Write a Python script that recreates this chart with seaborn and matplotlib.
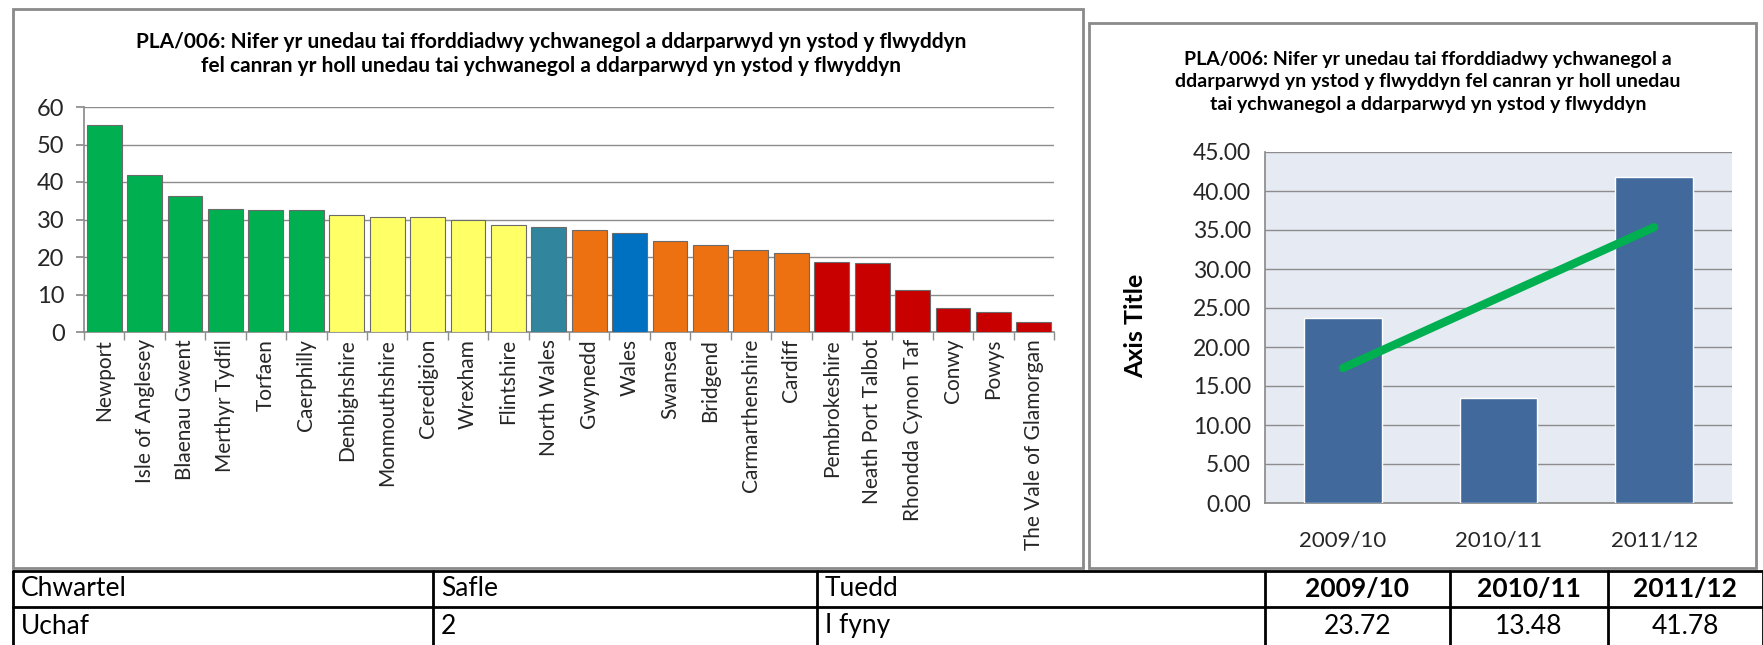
import numpy as np
import matplotlib
matplotlib.use("Agg")
import matplotlib.pyplot as plt
from matplotlib.patches import Rectangle
from matplotlib.lines import Line2D
import seaborn as sns

# Data
authorities = ["Newport", "Isle of Anglesey", "Blaenau Gwent", "Merthyr Tydfil", "Torfaen",
               "Caerphilly", "Denbighshire", "Monmouthshire", "Ceredigion", "Wrexham",
               "Flintshire", "North Wales", "Gwynedd", "Wales", "Swansea", "Bridgend",
               "Carmarthenshire", "Cardiff", "Pembrokeshire", "Neath Port Talbot",
               "Rhondda Cynon Taf", "Conwy", "Powys", "The Vale of Glamorgan"]
pct_2011_12 = [55.3, 41.9, 36.2, 32.9, 32.6, 32.6, 31.1, 30.7, 30.7, 29.8, 28.6, 27.9,
               27.2, 26.3, 24.4, 23.3, 21.8, 21.1, 18.6, 18.3, 11.1, 6.3, 5.3, 2.7]
quartile = ["top"] * 6 + ["upper"] * 5 + ["north"] + ["lower"] + ["wales"] + ["lower"] * 4 + ["bottom"] * 6
quartile_colours = {"top": "#00B050", "upper": "#FFFF66", "north": "#31859C",
                    "wales": "#0070C0", "lower": "#ED7011", "bottom": "#C80000"}

years = ["2009/10", "2010/11", "2011/12"]
newport_vals = [23.72, 13.48, 41.78]

title_left = ("PLA/006: Nifer yr unedau tai fforddiadwy ychwanegol a ddarparwyd yn ystod y flwyddyn\n"
              "fel canran yr holl unedau tai ychwanegol a ddarparwyd yn ystod y flwyddyn")
title_right = ("PLA/006: Nifer yr unedau tai fforddiadwy ychwanegol a\n"
               "ddarparwyd yn ystod y flwyddyn fel canran yr holl unedau\n"
               "tai ychwanegol a ddarparwyd yn ystod y flwyddyn")

table_header = ["Chwartel", "Safle", "Tuedd"]
table_row = ["Uchaf", "2", "I fyny"]

W, H = 1763, 645

sns.set_theme(style="white")
plt.rcParams["font.family"] = ["Lato", "DejaVu Sans"]
plt.rcParams["text.color"] = "#000000"

fig = plt.figure(figsize=(W / 100, H / 100), dpi=100)


def fx(px):
    return px / W


def fy(py):
    return 1 - py / H


def box(x0, y0, x1, y1):
    return [fx(x0), fy(y1), fx(x1) - fx(x0), fy(y0) - fy(y1)]


# panel frames
fig.patches.append(Rectangle((fx(13), fy(568)), fx(1083) - fx(13), fy(9) - fy(568),
                             transform=fig.transFigure, fill=False, edgecolor="#8a8a8a", lw=2))
fig.patches.append(Rectangle((fx(1089), fy(568)), fx(1756) - fx(1089), fy(23) - fy(568),
                             transform=fig.transFigure, fill=False, edgecolor="#8a8a8a", lw=2))

# ---- left chart: all authorities
ax1 = fig.add_axes(box(84, 107, 1054, 332))
colours = [quartile_colours[q] for q in quartile]
sns.barplot(x=authorities, y=pct_2011_12, hue=authorities, palette=colours, legend=False,
            width=0.86, edgecolor="#6b6b6b", linewidth=0.8, saturation=1, ax=ax1, zorder=3)
ax1.set_ylim(0, 60)
ax1.set_xlim(-0.5, len(authorities) - 0.5)
ax1.set_yticks(range(0, 61, 10))
ax1.yaxis.grid(True, color="#8c8c8c", lw=1)
ax1.set_axisbelow(True)
for s in ["top", "right"]:
    ax1.spines[s].set_visible(False)
ax1.spines["left"].set_color("#8c8c8c")
ax1.spines["bottom"].set_color("#8c8c8c")
ax1.tick_params(axis="y", labelsize=17, length=6, color="#8c8c8c", left=True, pad=8)
ax1.set_xticks(range(len(authorities)))
ax1.set_xticklabels(authorities, rotation=90, fontsize=15)
ax1.tick_params(axis="x", length=0, pad=5)
ax1.set_xticks(np.arange(-0.5, len(authorities), 1), minor=True)
ax1.tick_params(axis="x", which="minor", length=6, color="#8c8c8c", bottom=True)
ax1.set_xlabel("")
ax1.set_ylabel("")
fig.text(fx(551), fy(54), title_left, ha="center", va="center", fontsize=15,
         fontweight="bold", linespacing=1.3)

# ---- right chart: Newport trend
ax2 = fig.add_axes(box(1265, 152, 1732, 503))
ax2.set_facecolor("#E6EBF3")
sns.barplot(x=years, y=newport_vals, color="#41699B", saturation=1, width=0.5, ax=ax2, zorder=3)
sns.regplot(x=np.arange(len(years)), y=newport_vals, scatter=False, ci=None, truncate=True,
            color="#00B050", line_kws={"lw": 6, "solid_capstyle": "round", "zorder": 4}, ax=ax2)
ax2.set_ylim(0, 45)
ax2.set_xlim(-0.5, 2.5)
ax2.set_yticks(np.arange(0, 46, 5))
ax2.set_yticklabels([f"{v:.2f}" for v in np.arange(0, 46, 5)])
ax2.yaxis.grid(True, color="#8c8c8c", lw=1)
ax2.set_axisbelow(True)
for s in ["top", "right"]:
    ax2.spines[s].set_visible(False)
ax2.spines["left"].set_color("#8c8c8c")
ax2.spines["bottom"].set_color("#8c8c8c")
ax2.tick_params(axis="y", labelsize=16.5, length=0, pad=10)
ax2.tick_params(axis="x", labelsize=16, length=0, pad=20)
ax2.set_xticks(range(len(years)))
ax2.set_xticklabels(years)
ax2.set_xlabel("")
ax2.set_ylabel("")
fig.text(fx(1136), fy(326), "Axis Title", rotation=90, ha="center", va="center",
         fontsize=18, fontweight="bold")
fig.text(fx(1428), fy(82), title_right, ha="center", va="center", fontsize=14,
         fontweight="bold", linespacing=1.4)

# ---- table below
col_edges = [13, 433, 817, 1265, 1450, 1608, 1763]
row_edges = [571, 607, 645]
for y in row_edges[:2]:
    fig.add_artist(Line2D([fx(13), fx(1763)], [fy(y), fy(y)], color="black",
                          lw=2, transform=fig.transFigure))
for x in col_edges:
    fig.add_artist(Line2D([fx(x), fx(x)], [fy(571), fy(645)], color="black",
                          lw=2, transform=fig.transFigure))
row_mid = [589, 626]
for i, txt in enumerate(table_header):
    fig.text(fx(col_edges[i] + 8), fy(row_mid[0]), txt, ha="left", va="center", fontsize=19)
for i, txt in enumerate(table_row):
    fig.text(fx(col_edges[i] + 8), fy(row_mid[1]), txt, ha="left", va="center", fontsize=19)
for j, (yr, v) in enumerate(zip(years, newport_vals)):
    cx = (col_edges[3 + j] + col_edges[4 + j]) / 2
    fig.text(fx(cx), fy(row_mid[0]), yr, ha="center", va="center", fontsize=19,
             fontweight="bold")
    fig.text(fx(cx), fy(row_mid[1]), f"{v:.2f}", ha="center", va="center", fontsize=19)

fig.savefig("out.png", dpi=100)
